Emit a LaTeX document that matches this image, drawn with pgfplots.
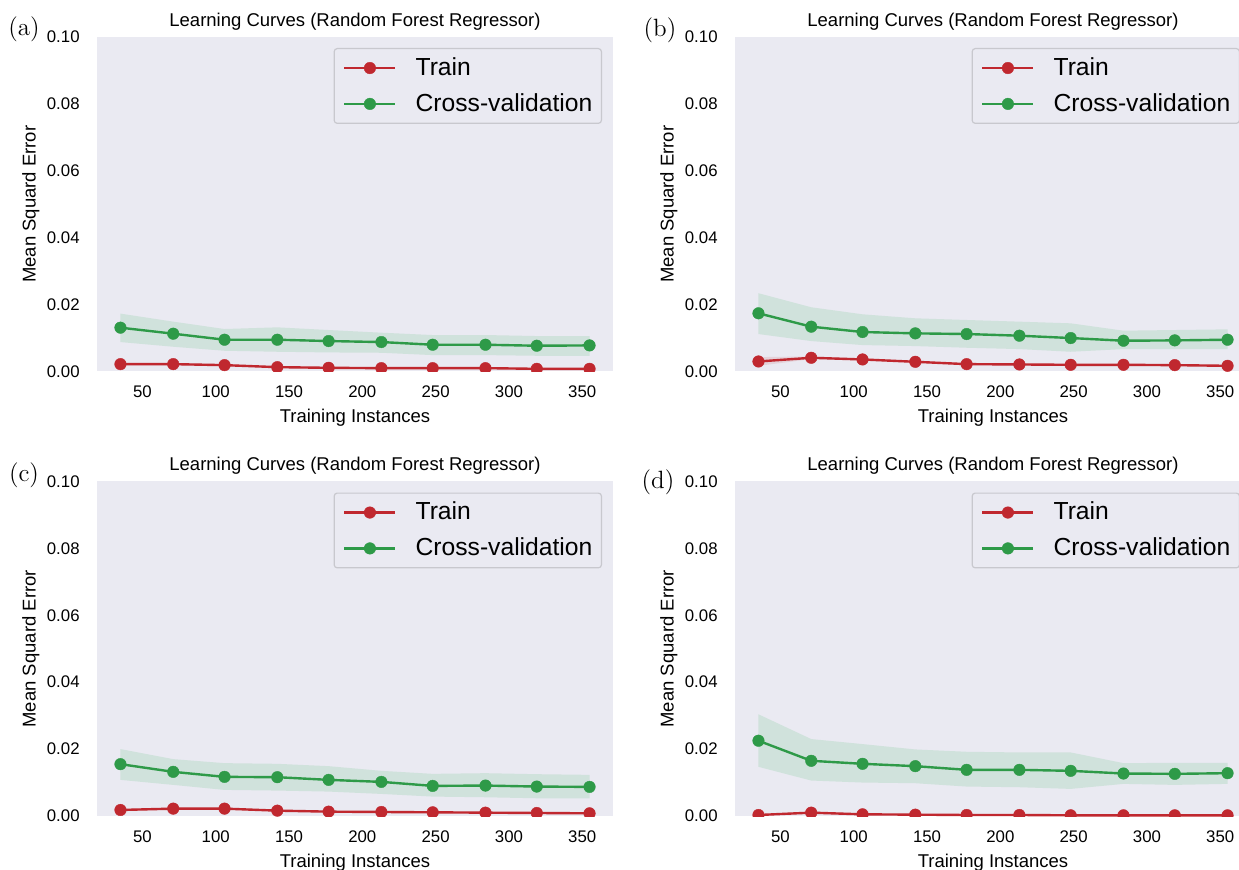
\documentclass[border=0pt]{standalone}
\usepackage{pgfplots}
\pgfplotsset{compat=1.18}
\usepackage{pgfplotstable}
\usepgfplotslibrary{fillbetween}
\usepackage{fontspec}
\setsansfont{Liberation Sans}

\definecolor{bgc}{HTML}{EAEAF2}
\definecolor{rc}{HTML}{C0282F}
\definecolor{gc}{HTML}{2E9A48}
\definecolor{cvband}{HTML}{D0E2DC}
\definecolor{legedge}{HTML}{C8C8CE}

\pgfplotstableread{
x tr trlo trhi cv cvlo cvhi
35 0.0022 0.0019 0.0025 0.0131 0.0088 0.0173
71 0.0022 0.0019 0.0025 0.0113 0.0074 0.0149
106 0.0019 0.0016 0.0022 0.0095 0.0062 0.0127
142 0.0013 0.0011 0.0015 0.0095 0.0059 0.0132
177 0.0011 0.0009 0.0013 0.0091 0.0057 0.0124
213 0.0010 0.0008 0.0012 0.0088 0.0056 0.0116
248 0.0010 0.0008 0.0012 0.0080 0.0049 0.0109
284 0.0010 0.0008 0.0012 0.0080 0.0049 0.0109
319 0.0008 0.0006 0.0010 0.0077 0.0047 0.0106
355 0.0008 0.0006 0.0010 0.0078 0.0047 0.0106
}\tA

\pgfplotstableread{
x tr trlo trhi cv cvlo cvhi
35 0.0030 0.0017 0.0043 0.0174 0.0112 0.0234
71 0.0041 0.0037 0.0045 0.0134 0.0091 0.0192
106 0.0036 0.0033 0.0039 0.0118 0.0079 0.0171
142 0.0029 0.0026 0.0032 0.0114 0.0076 0.0159
177 0.0022 0.0020 0.0024 0.0112 0.0071 0.0154
213 0.0021 0.0019 0.0023 0.0107 0.0067 0.0149
248 0.0020 0.0018 0.0022 0.0100 0.0059 0.0144
284 0.0020 0.0018 0.0022 0.0092 0.0067 0.0122
319 0.0019 0.0017 0.0021 0.0093 0.0067 0.0124
355 0.0017 0.0015 0.0019 0.0095 0.0067 0.0126
}\tB

\pgfplotstableread{
x tr trlo trhi cv cvlo cvhi
35 0.0018 0.0015 0.0021 0.0155 0.0108 0.0200
71 0.0022 0.0019 0.0025 0.0132 0.0093 0.0170
106 0.0022 0.0019 0.0025 0.0117 0.0078 0.0158
142 0.0016 0.0014 0.0018 0.0116 0.0076 0.0156
177 0.0013 0.0011 0.0015 0.0108 0.0073 0.0149
213 0.0012 0.0010 0.0014 0.0102 0.0066 0.0135
248 0.0011 0.0009 0.0013 0.0090 0.0058 0.0126
284 0.0010 0.0008 0.0012 0.0091 0.0056 0.0128
319 0.0009 0.0007 0.0011 0.0088 0.0053 0.0125
355 0.0008 0.0006 0.0010 0.0087 0.0053 0.0123
}\tC

\pgfplotstableread{
x tr trlo trhi cv cvlo cvhi
35 0.0003 0.0001 0.0005 0.0225 0.0147 0.0304
71 0.0010 0.0007 0.0013 0.0165 0.0106 0.0230
106 0.0005 0.0003 0.0007 0.0156 0.0100 0.0215
142 0.0004 0.0002 0.0006 0.0149 0.0098 0.0199
177 0.0003 0.0001 0.0005 0.0138 0.0088 0.0192
213 0.0003 0.0001 0.0005 0.0138 0.0086 0.0190
248 0.0002 0.0000 0.0004 0.0135 0.0081 0.0190
284 0.0002 0.0000 0.0004 0.0127 0.0096 0.0158
319 0.0002 0.0000 0.0004 0.0126 0.0093 0.0159
355 0.0002 0.0000 0.0004 0.0128 0.0096 0.0159
}\tD

\pgfplotsset{
  every axis title/.style={at={(axis description cs:0.5,1.0314)}, anchor=base, inner sep=0pt, font=\sffamily\fontsize{9.25}{11}\selectfont},
  lc/.style={
    scale only axis, width=258pt, height=167.25pt,
    anchor=south west,
    xmin=19, xmax=371, ymin=0, ymax=0.1,
    axis background/.style={fill=bgc},
    axis line style={draw=none},
    major tick length=0pt,
    xtick={50,100,150,200,250,300,350},
    ytick={0,0.02,0.04,0.06,0.08,0.1},
    scaled y ticks=false,
    /pgf/number format/assume math mode=true,
    tick label style={font=\sffamily\fontsize{8.4}{10}\selectfont, inner sep=0pt},
    yticklabel style={/pgf/number format/fixed, /pgf/number format/fixed zerofill, /pgf/number format/precision=2, xshift=-8.5pt},
    xticklabel style={yshift=-7pt},
    title={Learning Curves (Random Forest Regressor)},
    xlabel={Training Instances},
    xlabel style={font=\sffamily\fontsize{9.25}{11}\selectfont, at={(axis description cs:0.5,-0.1525)}, anchor=base, inner sep=0pt},
    ylabel={Mean Squard Error},
    ylabel style={font=\sffamily\fontsize{9.25}{11}\selectfont, at={(axis description cs:-0.128,0.5)}, anchor=center, inner sep=0pt},
    clip marker paths=true,
    legend cell align=left,
    legend style={at={(axis description cs:0.9787,0.9671)}, anchor=north east,
      font=\sffamily\fontsize{12.33}{14}\selectfont, fill=bgc, draw=legedge, line width=0.6pt, rounded corners=1.5pt,
      inner xsep=4.5pt, inner ysep=4.5pt, row sep=7.5pt,
      nodes={inner sep=0pt},
      /tikz/every odd column/.append style={column sep=9.5pt}},
    legend image code/.code={\draw[mark repeat=2,mark phase=2] plot coordinates {(0pt,0pt) (12.75pt,0pt) (25.5pt,0pt)};},
  },
  ln/.style={line width=1.2pt, mark=*, mark size=2.9pt, mark options={solid, line width=0.2pt}},
}

\newcommand{\panel}[2]{%
\begin{axis}[lc, at={#1}]
  \addplot[name path=trhi, draw=none, forget plot] table[x=x,y=trhi]{#2};
  \addplot[name path=trlo, draw=none, forget plot] table[x=x,y=trlo]{#2};
  \addplot[fill=rc, fill opacity=0.12, draw=none, forget plot] fill between[of=trhi and trlo];
  \addplot[name path=cvhi, draw=none, forget plot] table[x=x,y=cvhi]{#2};
  \addplot[name path=cvlo, draw=none, forget plot] table[x=x,y=cvlo]{#2};
  \addplot[fill=cvband, draw=none, forget plot] fill between[of=cvhi and cvlo];
  \addplot[ln, color=rc] table[x=x,y=tr]{#2};
  \addlegendentry{Train}
  \addplot[ln, color=gc] table[x=x,y=cv]{#2};
  \addlegendentry{Cross-validation}
\end{axis}%
}

\begin{document}
\begin{tikzpicture}
\panel{(48.5pt,248.75pt)}{\tA}
\panel{(367.5pt,248.75pt)}{\tB}
\panel{(48.5pt,26.5pt)}{\tC}
\panel{(367.5pt,26.5pt)}{\tD}
\node[font=\fontsize{12.5}{14}\selectfont, inner sep=0pt] at (12pt,420pt) {(a)};
\node[font=\fontsize{12.5}{14}\selectfont, inner sep=0pt] at (330pt,419.5pt) {(b)};
\node[font=\fontsize{12.5}{14}\selectfont, inner sep=0pt] at (12pt,197pt) {(c)};
\node[font=\fontsize{12.5}{14}\selectfont, inner sep=0pt] at (329pt,193.5pt) {(d)};
\pgfresetboundingbox
\path[use as bounding box] (0,0) rectangle (619.5pt,434.5pt);
\end{tikzpicture}
\end{document}
